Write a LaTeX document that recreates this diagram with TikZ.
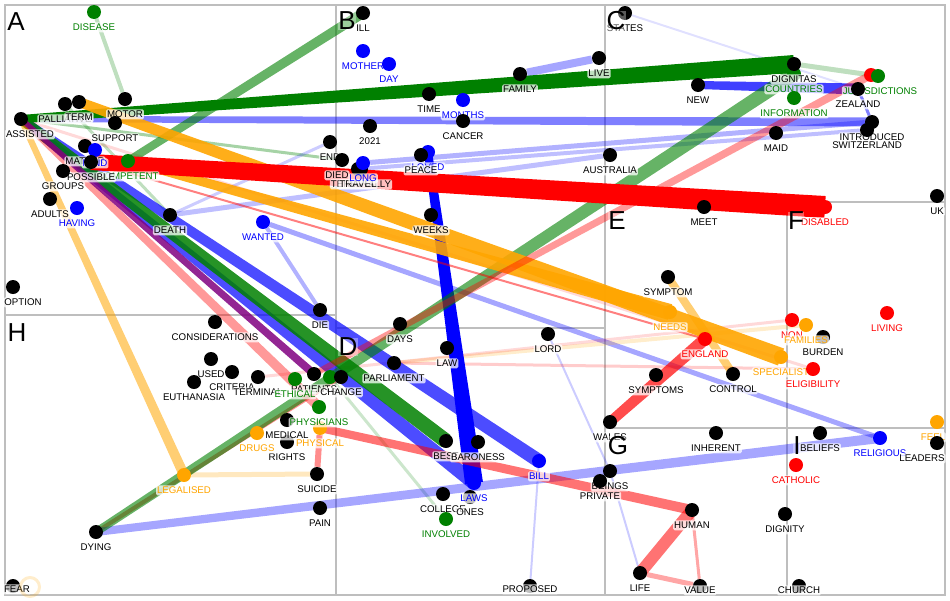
\documentclass[tikz,border=0pt]{standalone}
\usepackage{fontspec}
\setmainfont{Liberation Sans}
\usetikzlibrary{calc,backgrounds,positioning}
\definecolor{tgreen}{RGB}{0,128,0}
\definecolor{tblue}{RGB}{0,0,255}
\definecolor{tred}{RGB}{255,0,0}
\definecolor{torange}{RGB}{255,165,0}
\definecolor{tpurple}{RGB}{128,0,128}
\definecolor{framegray}{RGB}{190,190,190}
\tikzset{
    dot/.style = {circle, fill=#1, inner sep=0pt, minimum size=14pt},
    dot/.default = black,
    lbl/.style = {fill=white, fill opacity=.75, text opacity=1, inner sep=1pt,
        rounded corners=1.5pt, text height=7.5pt, text depth=.5pt, yshift=-3pt,
        font=\fontsize{9.7}{11}\selectfont},
    every label/.append style = {lbl},
    panel/.style = {inner sep=.5pt, fill=white, fill opacity=.35, text opacity=1,
        font=\fontsize{26}{28}\selectfont},
    frameline/.style = {draw=framegray, line width=1.5pt}
}
% tapered link: [style]{from}{to}{half width at from}{half width at to}
\newcommand{\band}[5][]{%
    \fill[#1] ($(#2)!#4!90:(#3)$) -- ($(#3)!#5!-90:(#2)$)
        -- ($(#3)!#5!90:(#2)$) -- ($(#2)!#4!-90:(#3)$) -- cycle;}

\begin{document}
\begin{tikzpicture}[x=1pt, y=-1pt]
    \useasboundingbox (0,0) rectangle (950,600);

    % panel A
    \node[dot=tgreen, label={[text=tgreen]below:DISEASE}] (disease) at (94,12) {};
    \node[dot, label=below:MOTOR] (motor) at (125,99) {};
    \node[dot, label=below:PALLIATIVE] (palli) at (65,104) {};
    \node[dot, label=below:TERM] (term) at (79,102) {};
    \node[dot, label=below:SUPPORT] (support) at (115,123) {};
    \node[dot, label={[xshift=9pt]below:ASSISTED}] (assisted) at (21,119) {};
    \node[dot, label=below:MATTER] (matter) at (85,146) {};
    \node[dot=tblue, label={[text=tblue, yshift=2pt]below:MIND}] (mind) at (95,150) {};
    \node[dot=tgreen, label={[text=tgreen]below:COMPETENT}] (competent) at (128,161) {};
    \node[dot, label=below:POSSIBLE] (possible) at (91,162) {};
    \node[dot, label=below:GROUPS] (groups) at (63,171) {};
    \node[dot, label=below:ADULTS] (adults) at (50,199) {};
    \node[dot=tblue, label={[text=tblue]below:HAVING}] (having) at (77,208) {};
    \node[dot, label=below:DEATH] (death) at (170,215) {};
    \node[dot=tblue, label={[text=tblue]below:WANTED}] (wanted) at (263,222) {};
    \node[dot, label={[xshift=10pt]below:OPTION}] (option) at (13,287) {};

    % panel B
    \node[dot, label=below:ILL] (ill) at (363,13) {};
    \node[dot=tblue, label={[text=tblue]below:MOTHER}] (mother) at (363,51) {};
    \node[dot=tblue, label={[text=tblue]below:DAY}] (day) at (389,64) {};
    \node[dot, label=below:TIME] (time) at (429,94) {};
    \node[dot=tblue, label={[text=tblue]below:MONTHS}] (months) at (463,100) {};
    \node[dot, label=below:FAMILY] (family) at (520,74) {};
    \node[dot, label=below:LIVE] (live) at (599,58) {};
    \node[dot, label=below:2021] (y2021) at (370,126) {};
    \node[dot, label=below:CANCER] (cancer) at (463,121) {};
    \node[dot, label=below:END] (end) at (330,142) {};
    \node[dot, label={[xshift=-5pt]below:DIED}] (died) at (342,160) {};
    \node[dot, label=below:TERMINALLY] (terminally) at (361,169) {};
    \node[dot, label=below:TRAVEL] (travel) at (358,169) {};
    \node[dot=tblue, label={[text=tblue]below:LONG}] (long) at (363,163) {};
    \node[dot=tblue, label={[text=tblue]below:LOVED}] (loved) at (428,152) {};
    \node[dot, label=below:PEACE] (peace) at (421,155) {};
    \node[dot, label=below:WEEKS] (weeks) at (431,215) {};
    \node[dot, label=below:AUSTRALIA] (australia) at (610,155) {};

    % panel C
    \node[dot, label=below:STATES] (states) at (625,13) {};
    \node[dot, label=below:NEW] (new) at (698,85) {};
    \node[dot=tgreen, label={[text=tgreen]below:COUNTRIES}] (countries) at (794,74) {};
    \node[dot, label=below:DIGNITAS] (dignitas) at (794,64) {};
    \node[dot=tgreen, label={[text=tgreen]below:INFORMATION}] (information) at (794,98) {};
    \node[dot=tred] (jurisred) at (871,75) {};
    \node[dot=tgreen, label={[text=tgreen, xshift=2pt]below:JURISDICTIONS}] (jurisdictions) at (878,76) {};
    \node[dot, label=below:ZEALAND] (zealand) at (858,89) {};
    \node[dot, label=below:INTRODUCED] (introduced) at (872,122) {};
    \node[dot, label=below:SWITZERLAND] (switzerland) at (867,130) {};
    \node[dot, label=below:MAID] (maid) at (776,133) {};
    \node[dot, label=below:UK] (uk) at (937,196) {};

    % panels E and F
    \node[dot, label=below:MEET] (meet) at (704,207) {};
    \node[dot=tred, label={[text=tred]below:DISABLED}] (disabled) at (825,207) {};
    \node[dot, label=below:SYMPTOM] (symptom) at (668,277) {};
    \node[dot=torange, label={[text=torange]below:NEEDS}] (needs) at (670,312) {};
    \node[dot=tred, label={[text=tred]below:ENGLAND}] (england) at (705,339) {};
    \node[dot=tred, label={[text=tred]below:NON}] (non) at (792,320) {};
    \node[dot, label=below:BURDEN] (burden) at (823,337) {};
    \node[dot=torange, label={[text=torange]below:FAMILIES}] (families) at (806,325) {};
    \node[dot=tred, label={[text=tred]below:LIVING}] (living) at (887,313) {};
    \node[dot=torange, label={[text=torange]below:SPECIALIST}] (specialist) at (781,357) {};
    \node[dot=tred, label={[text=tred]below:ELIGIBILITY}] (eligibility) at (813,369) {};
    \node[dot, label=below:SYMPTOMS] (symptoms) at (656,375) {};
    \node[dot, label=below:CONTROL] (control) at (733,374) {};
    \node[dot, label=below:WALES] (wales) at (610,422) {};
    \node[dot=torange, label={[text=torange, xshift=-4pt]below:FEEL}] (feel) at (937,422) {};

    % panels G and I
    \node[dot, label=below:INHERENT] (inherent) at (716,433) {};
    \node[dot, label=below:BELIEFS] (beliefs) at (820,433) {};
    \node[dot=tblue, label={[text=tblue]below:RELIGIOUS}] (religious) at (880,438) {};
    \node[dot, label={[xshift=-15pt]below:LEADERS}] (leaders) at (937,443) {};
    \node[dot=tred, label={[text=tred]below:CATHOLIC}] (catholic) at (796,465) {};
    \node[dot, label=below:BEINGS] (beings) at (610,471) {};
    \node[dot, label=below:PRIVATE] (private) at (600,481) {};
    \node[dot, label=below:HUMAN] (human) at (692,510) {};
    \node[dot, label=below:DIGNITY] (dignity) at (785,514) {};
    \node[dot, label=below:LIFE] (life) at (640,573) {};
    \node[dot, label={[yshift=11pt]below:VALUE}] (value) at (700,586) {};
    \node[dot, label={[yshift=11pt]below:CHURCH}] (church) at (799,586) {};

    % panel D
    \node[dot, label=below:DAYS] (days) at (400,324) {};
    \node[dot, label=below:LAW] (law) at (447,348) {};
    \node[dot, label=below:LORD] (lord) at (548,334) {};
    \node[dot, label=below:PARLIAMENT] (parliament) at (394,363) {};
    \node[dot, label=below:BEST] (best) at (446,441) {};
    \node[dot, label=below:BARONESS] (baroness) at (478,442) {};
    \node[dot=tblue, label={[text=tblue]below:BILL}] (bill) at (539,461) {};
    \node[dot, label=below:COLLEGE] (college) at (443,494) {};
    \node[dot, label=below:ONES] (ones) at (470,497) {};
    \node[dot=tblue, label={[text=tblue]below:LAWS}] (laws) at (474,483) {};
    \node[dot=tgreen, label={[text=tgreen]below:INVOLVED}] (involved) at (446,519) {};
    \node[dot, label={[yshift=12pt]below:PROPOSED}] (proposed) at (530,586) {};

    % panel H
    \node[dot, label=below:DIE] (die) at (320,310) {};
    \node[dot, label=below:CONSIDERATIONS] (considerations) at (215,322) {};
    \node[dot, label=below:USED] (used) at (211,359) {};
    \node[dot, label=below:EUTHANASIA] (euthanasia) at (194,382) {};
    \node[dot, label=below:CRITERIA] (criteria) at (232,372) {};
    \node[dot, label=below:TERMINAL] (terminal) at (258,377) {};
    \node[dot, label=below:PATIENTS] (patients) at (314,374) {};
    \node[dot=tgreen, label={[text=tgreen]below:ETHICAL}] (ethical) at (295,379) {};
    \node[dot=tgreen] (partygreen) at (330,377) {};
    \node[dot, label=below:CHANGE] (change) at (341,377) {};
    \node[dot, label=below:RIGHTS] (rights) at (287,442) {};
    \node[dot, label=below:MEDICAL] (medical) at (287,420) {};
    \node[dot=torange, label={[text=torange]below:DRUGS}] (drugs) at (257,433) {};
    \node[dot=torange, label={[text=torange]below:PHYSICAL}] (physical) at (320,428) {};
    \node[dot=tgreen, label={[text=tgreen]below:PHYSICIANS}] (physicians) at (319,407) {};
    \node[dot=torange, label={[text=torange]below:LEGALISED}] (legalised) at (184,475) {};
    \node[dot, label=below:SUICIDE] (suicide) at (317,474) {};
    \node[dot, label=below:PAIN] (pain) at (320,508) {};
    \node[dot, label=below:DYING] (dying) at (96,532) {};
    \node[dot, label={[xshift=4pt,yshift=12pt]below:FEAR}] (fear) at (13,586) {};
    \node[circle, draw=torange, draw opacity=.2, line width=3pt,
        minimum size=19pt] (fearring) at (30,587) {};

    \begin{scope}[on background layer]
        % panel frames
        \draw[frameline] (5,5) rectangle (945,595);
        \draw[frameline] (336,5) -- (336,595);
        \draw[frameline] (605,5) -- (605,595);
        \draw[frameline] (5,315) -- (336,315);
        \draw[frameline] (336,328) -- (605,328);
        \draw[frameline] (605,202) -- (945,202);
        \draw[frameline] (605,428) -- (945,428);
        \draw[frameline] (787,202) -- (787,595);

        % faint links
        \draw[tgreen, opacity=.25, line width=4pt] (disease) -- (motor);
        \draw[tgreen, opacity=.25, line width=3pt] (palli) -- (death);
        \draw[tgreen, opacity=.35, line width=3pt] (assisted) -- (died);
        \draw[tgreen, opacity=.2, line width=3pt] (partygreen) -- (involved);
        \draw[tgreen, opacity=.25, line width=5pt] (dignitas) -- (jurisdictions);
        \draw[tblue, opacity=.3, line width=4pt] (wanted) -- (die);
        \draw[tblue, opacity=.2, line width=3pt] (death) -- (end);
        \draw[tblue, opacity=.25, line width=5pt] (death) -- (australia);
        \draw[tblue, opacity=.3, line width=5pt] (long) -- (introduced);
        \draw[tblue, opacity=.25, line width=4pt] (travel) -- (switzerland);
        \draw[tblue, opacity=.5, line width=3pt] (zealand) -- (introduced);
        \draw[tblue, opacity=.35, line width=5pt] (wanted) -- (religious);
        \draw[tblue, opacity=.35, line width=8pt] (family) -- (live);
        \draw[tblue, opacity=.2, line width=2pt] (lord) -- (beings);
        \draw[tblue, opacity=.2, line width=2pt] (bill) -- (proposed);
        \draw[tblue, opacity=.2, line width=2pt] (beings) -- (life);
        \draw[tblue, opacity=.12, line width=2pt] (states) -- (zealand);
        \draw[torange, opacity=.25, line width=5pt] (legalised) -- (suicide);
        \draw[torange, opacity=.2, line width=4pt] (parliament) -- (families);
        \draw[tred, opacity=.45, line width=6pt] (suicide) -- (physical);
        \draw[tred, opacity=.15, line width=3pt] (assisted) -- (eligibility);
        \draw[tred, opacity=.15, line width=3pt] (terminal) -- (non);
        \draw[tred, opacity=.2, line width=3pt] (parliament) -- (eligibility);
        \draw[tred, opacity=.35, line width=5pt] (life) -- (value);
        \draw[tred, opacity=.35, line width=3pt] (value) -- (human);
        \draw[tred, opacity=.45, line width=4pt] (dying) -- (change);

        % heavy links
        \band[tblue, opacity=.35]{dying}{religious}{4pt}{5pt}
        \band[tblue, opacity=.5]{assisted}{introduced}{3pt}{4.5pt}
        \band[tblue, opacity=.75]{new}{zealand}{4pt}{5.5pt}
        \band[tblue, opacity=.7]{assisted}{bill}{4pt}{7pt}
        \band[tblue, opacity=.7]{assisted}{laws}{4pt}{7pt}
        \band[tblue]{loved}{laws}{4pt}{9pt}
        \band[tgreen]{assisted}{dignitas}{4pt}{9pt}
        \band[tgreen, opacity=.6]{dying}{countries}{4pt}{7pt}
        \band[tgreen, opacity=.6]{competent}{ill}{4pt}{5pt}
        \band[tgreen, opacity=.85]{assisted}{best}{5pt}{7.5pt}
        \band[torange, opacity=.55]{assisted}{legalised}{3pt}{5pt}
        \band[torange, opacity=.55]{symptom}{control}{4pt}{4pt}
        \band[torange, opacity=.9]{term}{specialist}{5pt}{9pt}
        \band[torange, opacity=.9]{competent}{needs}{4pt}{8pt}
        \draw[tred, opacity=.5, line width=2pt] (possible) -- (england);
        \band[tred]{possible}{disabled}{8pt}{11pt}
        \band[tred, opacity=.4]{patients}{jurisred}{3pt}{4pt}
        \band[tred, opacity=.4]{assisted}{physicians}{3pt}{5pt}
        \band[tpurple, opacity=.85]{assisted}{patients}{2.5pt}{4pt}
        \band[tred, opacity=.7]{wales}{england}{5pt}{6pt}
        \band[tred, opacity=.55]{physical}{human}{4pt}{5pt}
        \band[tred, opacity=.55]{human}{life}{6pt}{6pt}
    \end{scope}

    % panel letters
    \node[panel] (pA) at (16,22) {A};
    \node[panel] (pB) at (347,21) {B};
    \node[panel] (pC) at (616,21) {C};
    \node[panel] (pD) at (348,347) {D};
    \node[panel] (pE) at (617,221) {E};
    \node[panel] (pF) at (796,221) {F};
    \node[panel] (pG) at (618,446) {G};
    \node[panel] (pH) at (17,333) {H};
    \node[panel] (pI) at (797,446) {I};
\end{tikzpicture}
\end{document}
